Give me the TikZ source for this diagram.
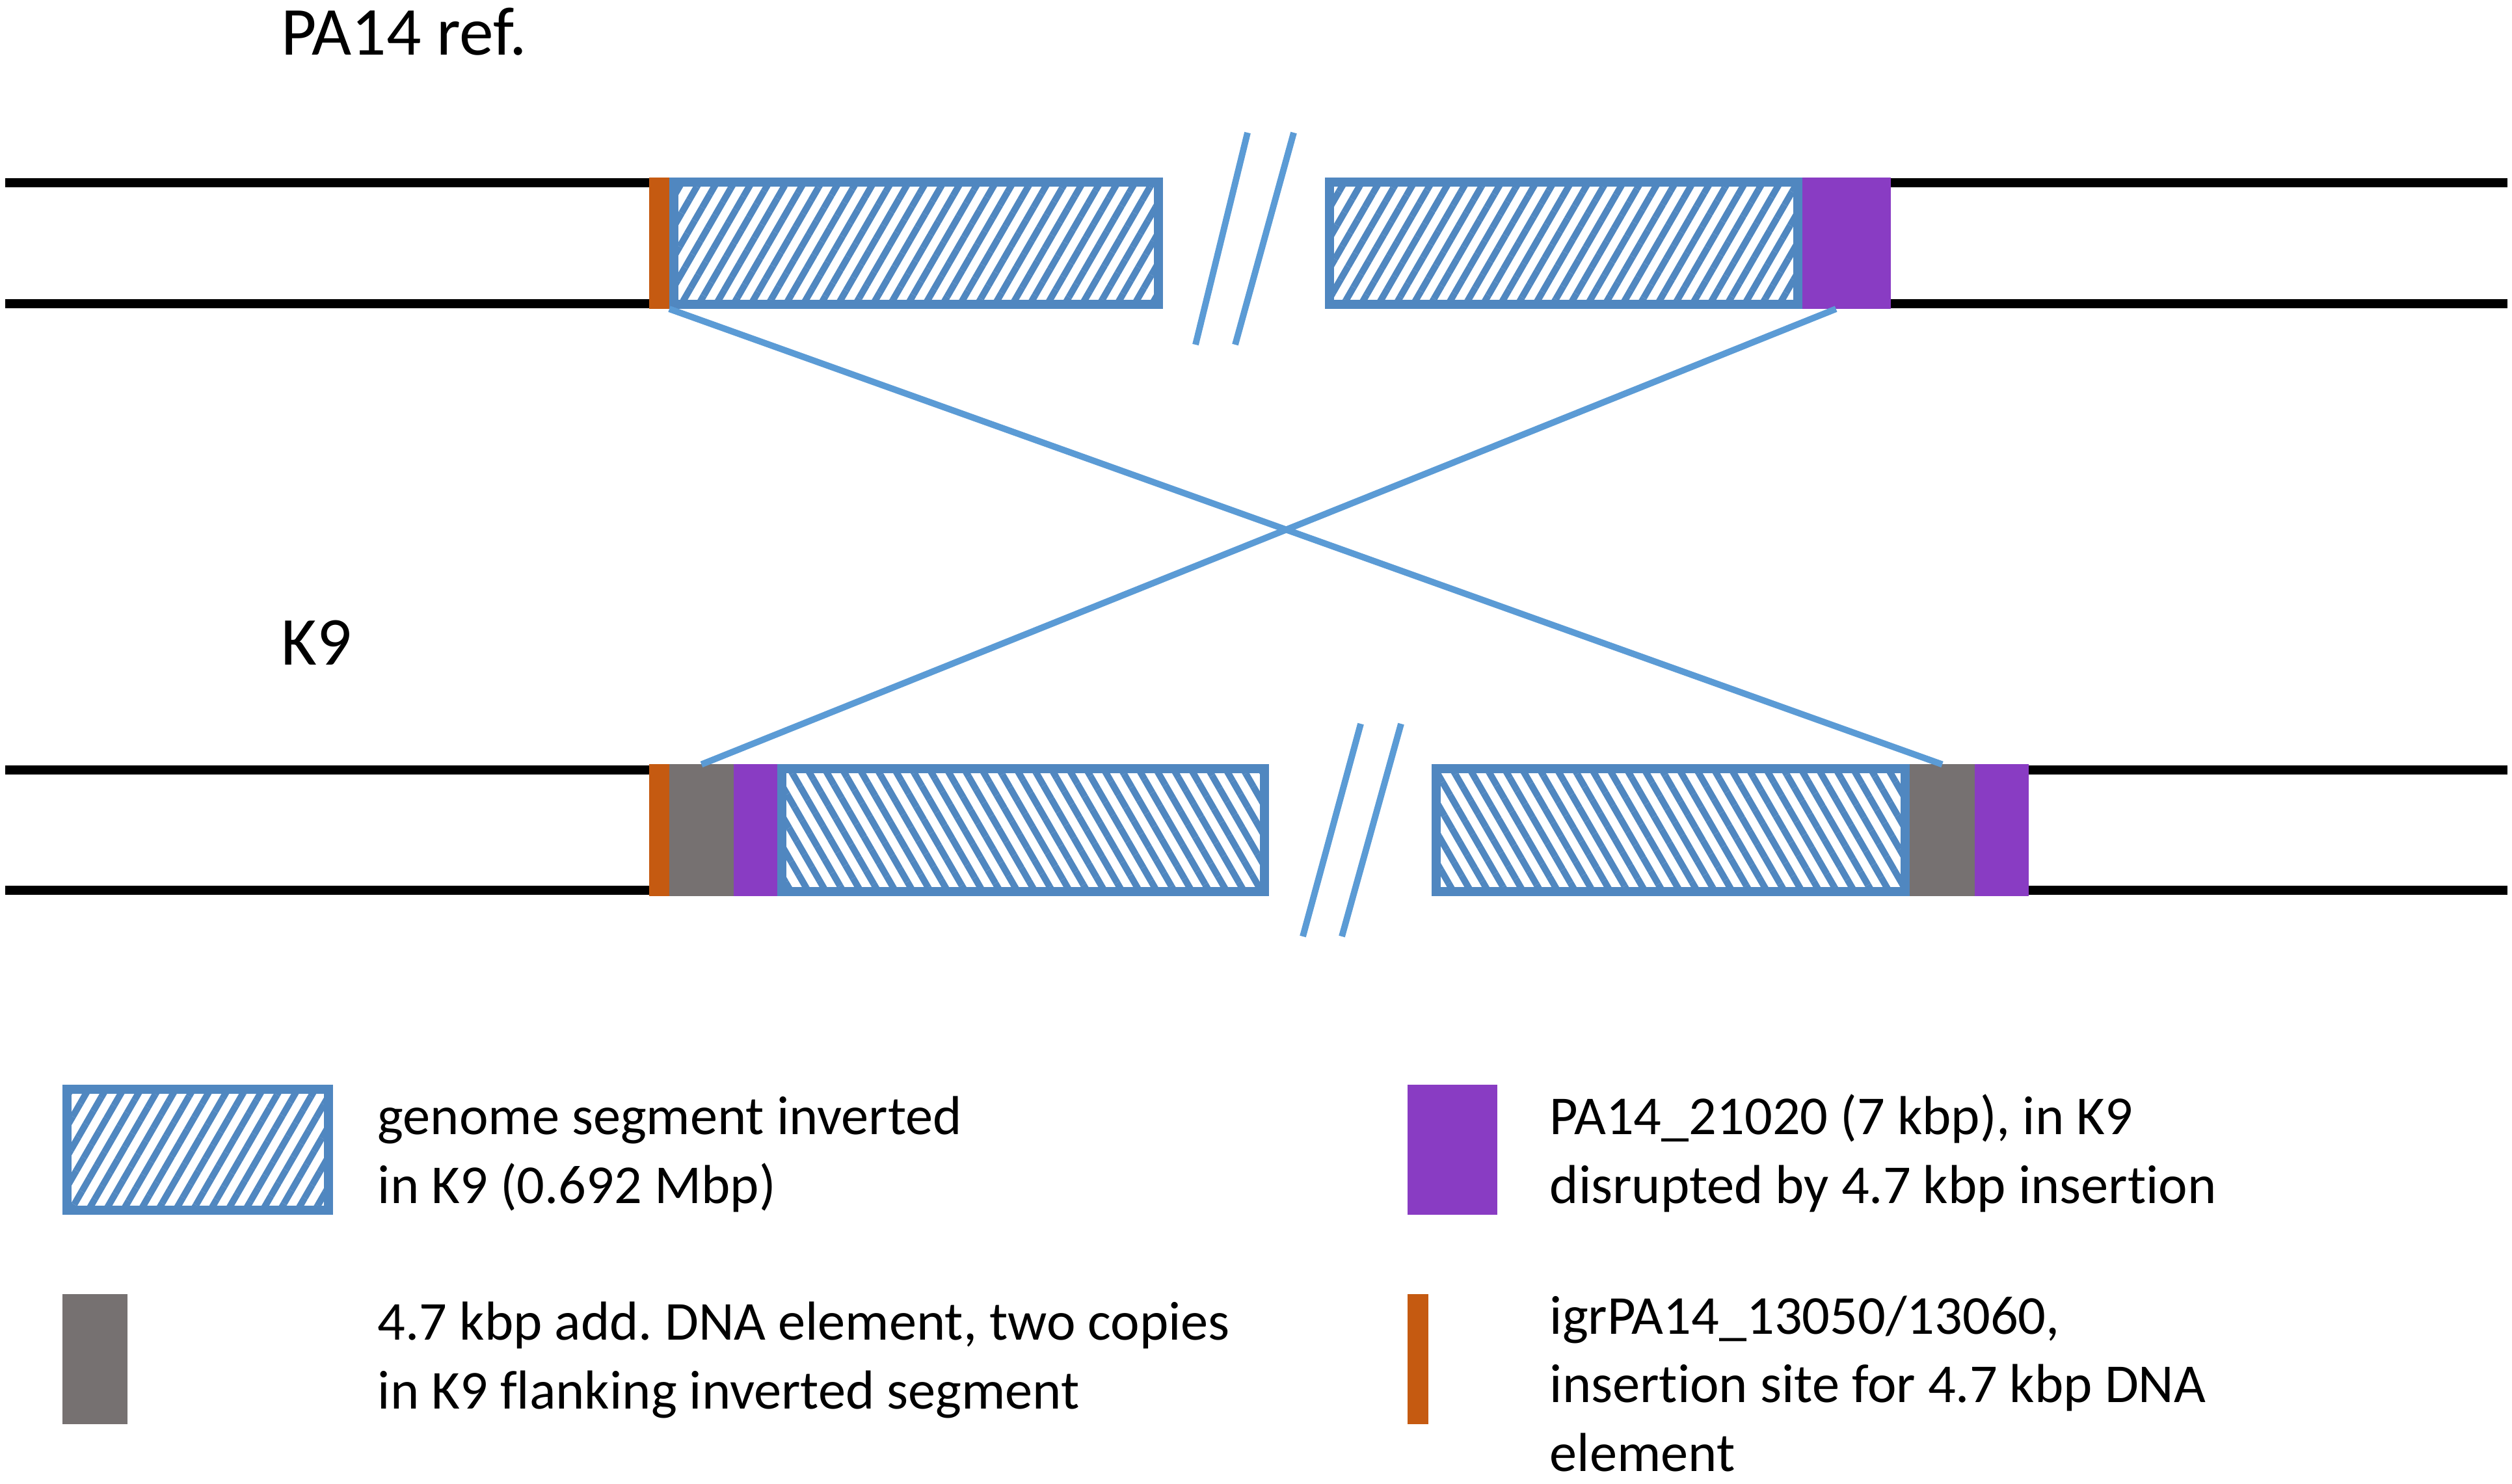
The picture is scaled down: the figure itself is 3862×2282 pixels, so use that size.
\documentclass[tikz,border=0pt]{standalone}
\usepackage{fontspec}
\setmainfont{Carlito}[Ligatures=NoCommon]
\frenchspacing
\usetikzlibrary{patterns.meta,calc}

\definecolor{segblue}{RGB}{80,135,192}
\definecolor{linkblue}{RGB}{91,155,213}
\definecolor{siteorange}{RGB}{197,90,17}
\definecolor{genepurple}{RGB}{137,60,195}
\definecolor{elemgrey}{RGB}{118,113,113}

\begin{document}
\begin{tikzpicture}[x=0.01cm,y=-0.01cm,
    dna/.style={line width=3.7pt,black},
    link/.style={line width=2.8pt,linkblue},
    block/.style={inner sep=0pt,outer sep=0pt,minimum height=2.02cm},
    seg/.style={block,draw=segblue,line width=4pt,outer sep=2pt,minimum height=1.88cm,
        pattern={Lines[angle=#1,distance=6.6pt,line width=2.9pt]},pattern color=segblue},
    seg/.default=60,
    site/.style={block,fill=siteorange,minimum width=0.31cm},
    gene/.style={block,fill=genepurple},
    elem/.style={block,fill=elemgrey},
    title/.style={anchor=base west,inner sep=0pt,font=\fontsize{30}{36}\selectfont},
    legtext/.style={anchor=base west,inner sep=0pt,align=left,font=\fontsize{24}{30}\selectfont}]
        \useasboundingbox (0,0) rectangle (3862,2282);

        % PA14 reference
        \node[title] (tRef) at (432,85) {PA14 ref.};
        \node[site] (oA) at (1013.5,374) {};
        \node[seg=60, minimum width=7.45cm] (hA1) at (1408.5,374) {};
        \node[seg=60, minimum width=7.20cm] (hA2) at (2404,374) {};
        \node[gene, minimum width=1.36cm] (pA) at (2839,374) {};

        \coordinate (leftA1) at (8,281);   \coordinate (rightA1) at (3855,281);
        \coordinate (leftA2) at (8,467);   \coordinate (rightA2) at (3855,467);
        \draw[dna] (leftA1) -- (leftA1 -| oA.west);
        \draw[dna] (leftA2) -- (leftA2 -| oA.west);
        \draw[dna] (pA.east |- rightA1) -- (rightA1);
        \draw[dna] (pA.east |- rightA2) -- (rightA2);

        \coordinate (brA1) at (1918,204);  \coordinate (brA2) at (1838,530);
        \coordinate (brA3) at (1989,204);  \coordinate (brA4) at (1899,530);
        \draw[link] (brA1) -- (brA2);
        \draw[link] (brA3) -- (brA4);

        % K9
        \node[title] (tK9) at (432,1022) {K9};
        \node[site] (oB) at (1013.5,1276.5) {};
        \node[elem, minimum width=0.99cm] (gB1) at (1078.5,1276.5) {};
        \node[gene, minimum width=0.67cm] (pB1) at (1161.5,1276.5) {};
        \node[seg=-60, minimum width=7.42cm] (hB1) at (1573,1276.5) {};
        \node[seg=-60, minimum width=7.21cm] (hB2) at (2568.5,1276.5) {};
        \node[elem, minimum width=1.00cm] (gB2) at (2986,1276.5) {};
        \node[gene, minimum width=0.83cm] (pB2) at (3077.5,1276.5) {};

        \coordinate (leftB1) at (8,1184);  \coordinate (rightB1) at (3855,1184);
        \coordinate (leftB2) at (8,1369);  \coordinate (rightB2) at (3855,1369);
        \draw[dna] (leftB1) -- (leftB1 -| oB.west);
        \draw[dna] (leftB2) -- (leftB2 -| oB.west);
        \draw[dna] (pB2.east |- rightB1) -- (rightB1);
        \draw[dna] (pB2.east |- rightB2) -- (rightB2);

        \coordinate (brB1) at (2092,1113); \coordinate (brB2) at (2003,1440);
        \coordinate (brB3) at (2154,1113); \coordinate (brB4) at (2063,1440);
        \draw[link] (brB1) -- (brB2);
        \draw[link] (brB3) -- (brB4);

        % inversion
        \draw[link] (oA.south east) -- (gB2.north);
        \draw[link] ($(pA.south west)!0.38!(pA.south east)$) -- (gB1.north);

        % legend
        \node[seg=60, minimum width=4.02cm, minimum height=1.86cm] (lgH) at (304,1768) {};
        \node[gene, minimum width=1.38cm, minimum height=2cm] (lgP) at (2233,1768) {};
        \node[elem, minimum width=1cm, minimum height=2cm] (lgG) at (146,2090) {};
        \node[site, minimum width=0.32cm, minimum height=2cm] (lgO) at (2180,2090) {};

        \node[legtext] (txH) at (580,1850) {genome segment inverted\\in K9 (0.692 Mbp)};
        \node[legtext] (txP) at (2382,1850) {PA14\_21020 (7 kbp), in K9\\disrupted by 4.7 kbp insertion};
        \node[legtext] (txG) at (580,2166) {4.7 kbp add. DNA element, two copies\\in K9 flanking inverted segment};
        \node[legtext] (txO) at (2382,2262) {igrPA14\_13050/13060,\\insertion site for 4.7 kbp DNA\\element};
    \end{tikzpicture}
\end{document}
